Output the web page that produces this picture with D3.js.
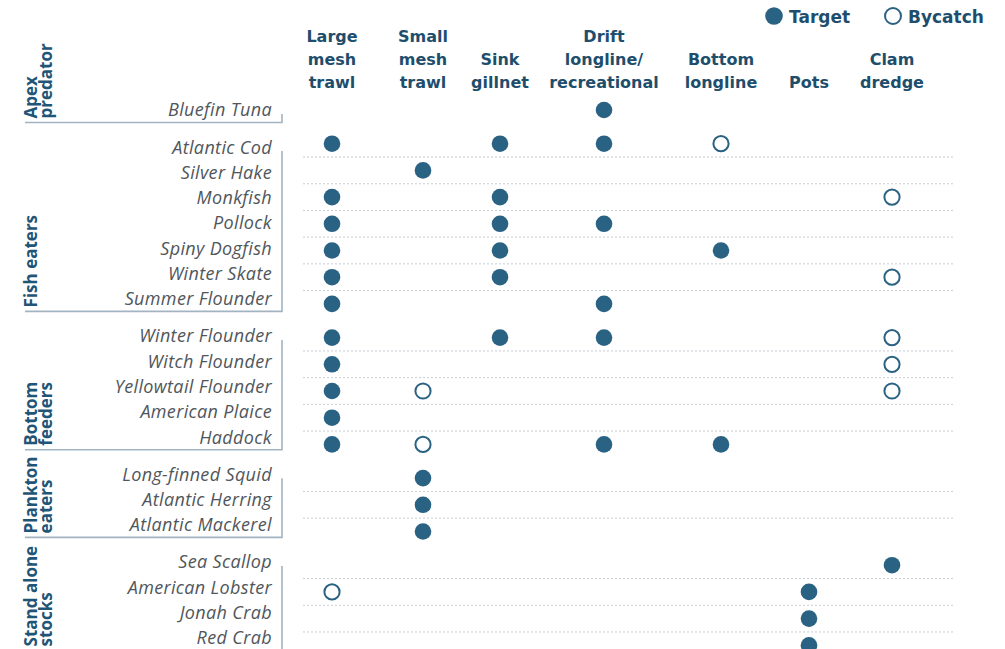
<!DOCTYPE html>
<html>
<head>
<meta charset="utf-8">
<script src="https://cdn.jsdelivr.net/npm/d3@7"></script>
<style>
  html, body { margin: 0; padding: 0; background: #ffffff; }
  svg { display: block; }
</style>
</head>
<body>
<svg id="chart" width="1005" height="649"></svg>
<script>
// ---------- DATA ----------
const gears = ["Large mesh trawl", "Small mesh trawl", "Sink gillnet", "Drift longline/ recreational", "Bottom longline", "Pots", "Clam dredge"];
const gearHeaderLines = [["Large", "mesh", "trawl"], ["Small", "mesh", "trawl"], ["Sink", "gillnet"], ["Drift", "longline/", "recreational"], ["Bottom", "longline"], ["Pots"], ["Clam", "dredge"]];

const groups = ["Apex predator", "Fish eaters", "Bottom feeders", "Plankton eaters", "Stand alone stocks"];
const groupLabelLines = [["Apex", "predator"], ["Fish eaters"], ["Bottom", "feeders"], ["Plankton", "eaters"], ["Stand alone", "stocks"]];

const apexSpecies = ["Bluefin Tuna"];
const fishEaterSpecies = ["Atlantic Cod", "Silver Hake", "Monkfish", "Pollock", "Spiny Dogfish", "Winter Skate", "Summer Flounder"];
const bottomFeederSpecies = ["Winter Flounder", "Witch Flounder", "Yellowtail Flounder", "American Plaice", "Haddock"];
const planktonEaterSpecies = ["Long-finned Squid", "Atlantic Herring", "Atlantic Mackerel"];
const standAloneSpecies = ["Sea Scallop", "American Lobster", "Jonah Crab", "Red Crab"];
const groupSpecies = [apexSpecies, fishEaterSpecies, bottomFeederSpecies, planktonEaterSpecies, standAloneSpecies];

// catch type per species, in gear order: T = Target, B = Bycatch, "" = none
const catchTable = {
  "Bluefin Tuna":        ["",  "",  "",  "T", "",  "",  "" ],
  "Atlantic Cod":        ["T", "",  "T", "T", "B", "",  "" ],
  "Silver Hake":         ["",  "T", "",  "",  "",  "",  "" ],
  "Monkfish":            ["T", "",  "T", "",  "",  "",  "B"],
  "Pollock":             ["T", "",  "T", "T", "",  "",  "" ],
  "Spiny Dogfish":       ["T", "",  "T", "",  "T", "",  "" ],
  "Winter Skate":        ["T", "",  "T", "",  "",  "",  "B"],
  "Summer Flounder":     ["T", "",  "",  "T", "",  "",  "" ],
  "Winter Flounder":     ["T", "",  "T", "T", "",  "",  "B"],
  "Witch Flounder":      ["T", "",  "",  "",  "",  "",  "B"],
  "Yellowtail Flounder": ["T", "B", "",  "",  "",  "",  "B"],
  "American Plaice":     ["T", "",  "",  "",  "",  "",  "" ],
  "Haddock":             ["T", "B", "",  "T", "T", "",  "" ],
  "Long-finned Squid":   ["",  "T", "",  "",  "",  "",  "" ],
  "Atlantic Herring":    ["",  "T", "",  "",  "",  "",  "" ],
  "Atlantic Mackerel":   ["",  "T", "",  "",  "",  "",  "" ],
  "Sea Scallop":         ["",  "",  "",  "",  "",  "",  "T"],
  "American Lobster":    ["B", "",  "",  "",  "",  "T", "" ],
  "Jonah Crab":          ["",  "",  "",  "",  "",  "T", "" ],
  "Red Crab":            ["",  "",  "",  "",  "",  "T", "" ]
};
const legendItems = [["T", "Target"], ["B", "Bycatch"]];

// ---------- LAYOUT ----------
const colCenters = [332, 423, 500, 604, 721, 809, 892];
const dotColor = "#2a6284";
const headColor = "#1e4e6c";
const groupColor = "#1f5576";
const labelColor = "#50565b";
const bracketColor = "#a2b4c1";
const gridColor = "#c6ced4";

const svg = d3.select("#chart");

// flatten rows
const rows = [];
groupSpecies.forEach((list, g) => list.forEach(name => rows.push({ name, g, i: rows.length })));
const nRows = rows.length;

const x = d3.scaleOrdinal().domain(gears).range(colCenters);

// dot grid (row step + group gap)
const rowDot = d3.scaleLinear().domain([0, nRows - 1]).range([110, 110 + (nRows - 1) * 26.7]);
const gapDot = d3.scaleLinear().domain([0, groups.length - 1]).range([0, 28]);
const yDot = r => rowDot(r.i) + gapDot(r.g);
// label grid
const rowLab = d3.scaleLinear().domain([0, nRows - 1]).range([110, 110 + (nRows - 1) * 25.3]);
const gapLab = d3.scaleLinear().domain([0, groups.length - 1]).range([0, 47.2]);
const yLab = r => rowLab(r.i) + gapLab(r.g);

// ---------- GRIDLINES (within groups) ----------
const gridData = [];
rows.forEach((r, k) => {
  if (k > 0 && rows[k - 1].g === r.g) gridData.push((yDot(rows[k - 1]) + yDot(r)) / 2);
});
svg.append("g").selectAll("line").data(gridData).join("line")
  .attr("x1", 303).attr("x2", 955)
  .attr("y1", d => d).attr("y2", d => d)
  .attr("stroke", gridColor).attr("stroke-width", 1)
  .attr("stroke-dasharray", "2,2");

// ---------- HEADERS ----------
const head = svg.append("g").attr("font-family", "'DejaVu Sans', sans-serif")
  .attr("font-weight", "bold").attr("font-size", 16).attr("fill", headColor)
  .attr("text-anchor", "middle");
gears.forEach((gname, k) => {
  const lines = gearHeaderLines[k];
  const t = head.append("text").attr("x", x(gname));
  lines.forEach((ln, j) => {
    t.append("tspan").attr("x", x(gname))
      .attr("y", 87.5 - (lines.length - 1 - j) * 23)
      .text(ln);
  });
});

// ---------- LEGEND ----------
const legend = svg.append("g");
const legX = [774, 893];
legendItems.forEach(([code, label], k) => {
  legend.append("circle").attr("cx", legX[k]).attr("cy", 16).attr("r", code === "T" ? 8.8 : 8)
    .attr("fill", code === "T" ? dotColor : "#fff")
    .attr("stroke", dotColor).attr("stroke-width", code === "T" ? 0 : 2);
  legend.append("text").attr("x", legX[k] + 15).attr("y", 22.5)
    .attr("font-family", "'DejaVu Sans', sans-serif").attr("font-weight", "bold")
    .attr("font-size", 17).attr("fill", headColor).text(label);
});

// ---------- ROW LABELS ----------
svg.append("g").selectAll("text").data(rows).join("text")
  .attr("x", 272).attr("y", d => yLab(d)).attr("dy", "0.36em")
  .attr("text-anchor", "end")
  .attr("font-family", "'Open Sans', sans-serif").attr("font-style", "italic")
  .attr("font-size", 18).attr("letter-spacing", 0.35).attr("fill", labelColor)
  .text(d => d.name);

// ---------- BRACKETS & GROUP LABELS ----------
const br = svg.append("g");
groups.forEach((gname, g) => {
  const members = rows.filter(r => r.g === g);
  const top = yLab(members[0]) + 4;
  const bottom = yLab(members[members.length - 1]) + 12.5;
  br.append("path")
    .attr("d", `M282,${top}V${bottom}H25`)
    .attr("fill", "none").attr("stroke", bracketColor).attr("stroke-width", 1.6);
  const lines = groupLabelLines[g];
  const t = br.append("text")
    .attr("transform", `translate(37,${bottom - 4}) rotate(-90)`)
    .attr("font-family", "'Open Sans', sans-serif").attr("font-weight", "bold")
    .attr("font-size", 17).attr("fill", groupColor);
  lines.forEach((ln, j) => {
    t.append("tspan").attr("x", 0).attr("y", j * 15).text(ln);
  });
});

// ---------- DOTS ----------
const cells = [];
rows.forEach(r => {
  catchTable[r.name].forEach((code, k) => {
    if (code) cells.push({ row: r, gear: gears[k], code });
  });
});
svg.append("g").selectAll("circle").data(cells).join("circle")
  .attr("cx", d => x(d.gear))
  .attr("cy", d => yDot(d.row))
  .attr("r", d => d.code === "T" ? 8.3 : 7.6)
  .attr("fill", d => d.code === "T" ? dotColor : "#fff")
  .attr("stroke", dotColor)
  .attr("stroke-width", d => d.code === "T" ? 0 : 2);
</script>
</body>
</html>
